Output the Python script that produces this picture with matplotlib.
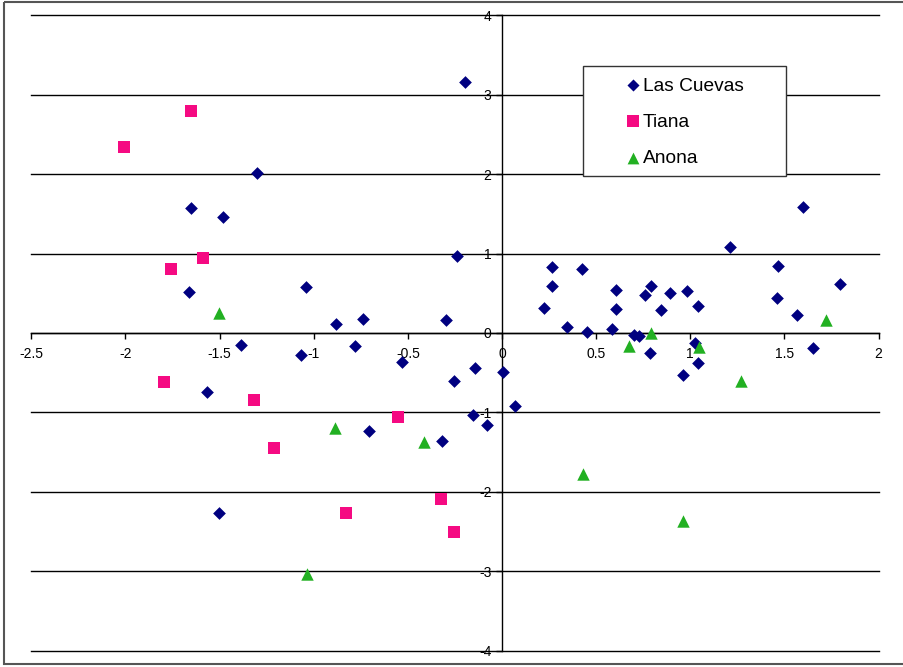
import matplotlib
matplotlib.use("Agg")
import matplotlib.pyplot as plt
from matplotlib.patches import Rectangle

plt.rcParams['font.family'] = ['Liberation Sans', 'DejaVu Sans']

# Las Cuevas
lc_x = [-0.197, -1.301, -1.653, -1.483, -0.239, -1.664, -1.043, -0.883, -0.736, -0.296,
        -1.388, -1.066, -0.781, -0.531, -0.143, -0.255, 0.005, 0.069, -1.568, -0.152,
        -0.080, -0.705, -0.317, -1.501,
        0.223, 0.264, 0.264, 0.343, 0.427, 0.453, 0.582, 0.605, 0.605, 0.701,
        0.727, 0.759, 0.789, 0.784, 0.846, 0.890, 0.984, 0.963, 1.027, 1.039,
        1.039, 1.209, 1.466, 1.460, 1.568, 1.653, 1.795, 1.600]
lc_y = [3.16, 2.01, 1.574, 1.461, 0.97, 0.516, 0.575, 0.117, 0.172, 0.168,
        -0.147, -0.281, -0.16, -0.361, -0.437, -0.60, -0.487, -0.915, -0.739, -1.037,
        -1.159, -1.234, -1.360, -2.263,
        0.319, 0.831, 0.596, 0.076, 0.802, 0.008, 0.05, 0.542, 0.298, -0.021,
        -0.034, 0.474, 0.596, -0.256, 0.29, 0.504, 0.529, -0.533, -0.13, 0.34,
        -0.382, 1.079, 0.84, 0.445, 0.223, -0.193, 0.621, 1.587]

# Tiana
ti_x = [-1.653, -2.007, -1.588, -1.756, -1.797, -1.317, -1.211, -0.552, -0.827, -0.324, -0.253]
ti_y = [2.80, 2.34, 0.945, 0.81, -0.617, -0.844, -1.444, -1.054, -2.271, -2.095, -2.51]

# Anona
an_x = [-1.503, -0.889, -0.414, -1.036, 0.676, 0.791, 1.044, 1.269, 1.719, 0.432, 0.960]
an_y = [0.25, -1.19, -1.377, -3.035, -0.16, 0.0, -0.17, -0.61, 0.168, -1.77, -2.37]

series_names = ["Las Cuevas", "Tiana", "Anona"]
x_ticks = [-2.5, -2, -1.5, -1, -0.5, 0, 0.5, 1, 1.5, 2]
x_labels = ["-2.5", "-2", "-1.5", "-1", "-0.5", "0", "0.5", "1", "1.5", "2"]
y_ticks = [-4, -3, -2, -1, 0, 1, 2, 3, 4]

navy = "#000080"
pink = "#F50A82"
green = "#22B022"
styles = [("D", 42, navy), ("s", 70, pink), ("^", 80, green)]

W, H = 904, 667
fig = plt.figure(figsize=(W / 100, H / 100), dpi=100)
fig.patch.set_facecolor("white")

left, right = 31.3 / W, 878.6 / W
bottom, top = 1 - 650.7 / H, 1 - 15.3 / H
ax = fig.add_axes([left, bottom, right - left, top - bottom])
ax.set_xlim(-2.5, 2)
ax.set_ylim(-4, 4)
ax.patch.set_alpha(0)

for y in y_ticks:
    ax.axhline(y, color="black", lw=1, zorder=1, clip_on=False)

for s in ["top", "right"]:
    ax.spines[s].set_visible(False)
ax.spines["left"].set_position(("data", 0))
ax.spines["bottom"].set_position(("data", 0))
ax.spines["left"].set_linewidth(1)
ax.spines["bottom"].set_linewidth(1)

ax.set_xticks(x_ticks)
ax.set_xticklabels(x_labels)
ax.set_yticks(y_ticks)
ax.set_yticklabels([str(v) for v in y_ticks])
ax.tick_params(axis="x", direction="out", length=4, width=1, labelsize=10, pad=6)
ax.tick_params(axis="y", direction="out", length=4, width=1, labelsize=10, pad=3.5)

for (xs, ys), (m, sz, c) in zip([(lc_x, lc_y), (ti_x, ti_y), (an_x, an_y)], styles):
    ax.scatter(xs, ys, marker=m, s=sz, color=c, zorder=3, linewidths=0, clip_on=False)

# overlay in pixel coords for outer border and legend
ov = fig.add_axes([0, 0, 1, 1], zorder=10)
ov.set_xlim(0, W)
ov.set_ylim(H, 0)
ov.axis("off")
ov.patch.set_alpha(0)
ov.add_patch(Rectangle((4.5, 1.5), W + 20, 662.5, fill=False, edgecolor="#555555", lw=1.5))

ov.add_patch(Rectangle((583.5, 65.7), 202.5, 110.3, facecolor="white",
                       edgecolor="#333333", lw=1, zorder=1))
rows_y = [84.5, 121, 157.5]
base_y = [90.7, 127.3, 163.3]
for name, (m, sz, c), my, by in zip(series_names, styles, rows_y, base_y):
    ov.scatter([633.3], [my], marker=m, s=sz * 0.9, color=c, linewidths=0, zorder=2)
    ov.text(643, by, name, fontsize=13.8, va="baseline", ha="left", zorder=2)

fig.savefig("out.png", dpi=100, facecolor="white")
